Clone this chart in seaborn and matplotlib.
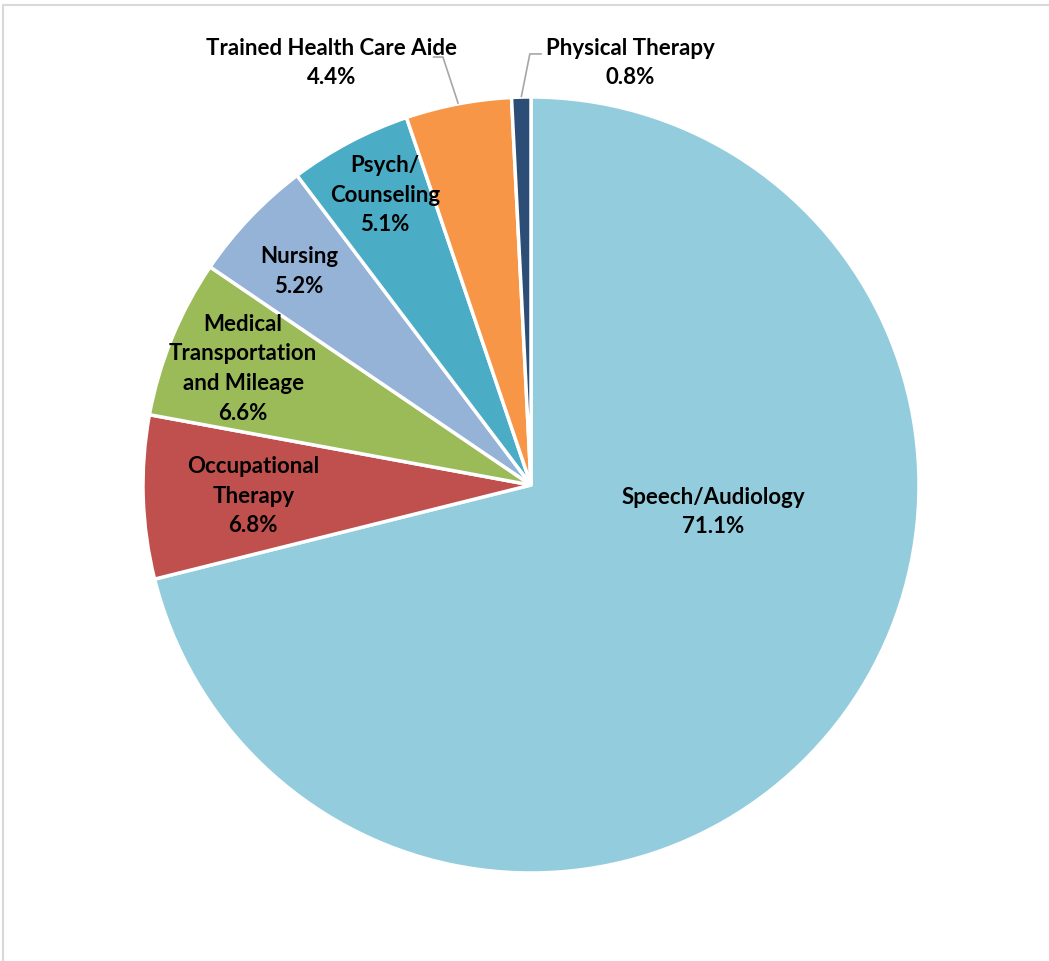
import numpy as np
import matplotlib
matplotlib.use("Agg")
import matplotlib.pyplot as plt
import seaborn as sns

# ---- data ----
categories = ["Speech/Audiology", "Occupational\nTherapy", "Medical\nTransportation\nand Mileage",
              "Nursing", "Psych/\nCounseling", "Trained Health Care Aide", "Physical Therapy"]
shares = [71.1, 6.8, 6.6, 5.2, 5.1, 4.4, 0.8]
colors_hex = ["#93CDDD", "#C0504D", "#9BBB59", "#95B3D7", "#4BACC6", "#F79646", "#2C4D75"]

# label placement (in radius units, relative to the pie centre)
label_offsets = [(0.469, -0.067), (-0.716, -0.026), (-0.742, 0.302), (-0.598, 0.552),
                 (-0.376, 0.750), (-0.515, 1.090), (0.255, 1.090)]
# leader elbows for outside labels: index -> [(elbow), (end)]
leaders = {5: [(-0.227, 1.103), (-0.253, 1.103)],
           6: [(-0.003, 1.111), (0.028, 1.111)]}

sns.set_theme(style="white")
plt.rcParams['font.family'] = ['Lato', 'DejaVu Sans']

W, H = 1049, 962
fig = plt.figure(figsize=(W / 100, H / 100), dpi=100)
ax = fig.add_axes([0, 0, 1, 1])

cx, cy, R = 531, H - 486, 388
palette = sns.color_palette(colors_hex)
wedges, _ = ax.pie(shares, colors=palette, startangle=90, counterclock=False,
                   center=(cx, cy), radius=R,
                   wedgeprops=dict(edgecolor="white", linewidth=2.5))
ax.set_xlim(0, W)
ax.set_ylim(0, H)
ax.set_aspect("equal")
ax.axis("off")

for i, (w, name, val) in enumerate(zip(wedges, categories, shares)):
    dx, dy = label_offsets[i]
    ax.text(cx + dx * R, cy + dy * R, f"{name}\n{val:.1f}%", ha="center", va="center",
            fontsize=16, fontweight="bold", color="black", linespacing=1.52)
    if i in leaders:
        mid = np.deg2rad((w.theta1 + w.theta2) / 2)
        xs = [cx + R * np.cos(mid)] + [cx + p[0] * R for p in leaders[i]]
        ys = [cy + R * np.sin(mid)] + [cy + p[1] * R for p in leaders[i]]
        ax.plot(xs, ys, color="#A6A6A6", lw=1.2, solid_capstyle="butt")

# chart-area border (light gray, top and left visible)
ax.plot([3, 3, W + 5], [-5, H - 6, H - 6], color="#D9D9D9", lw=1.5, clip_on=False)

fig.savefig("out.png", dpi=100)
